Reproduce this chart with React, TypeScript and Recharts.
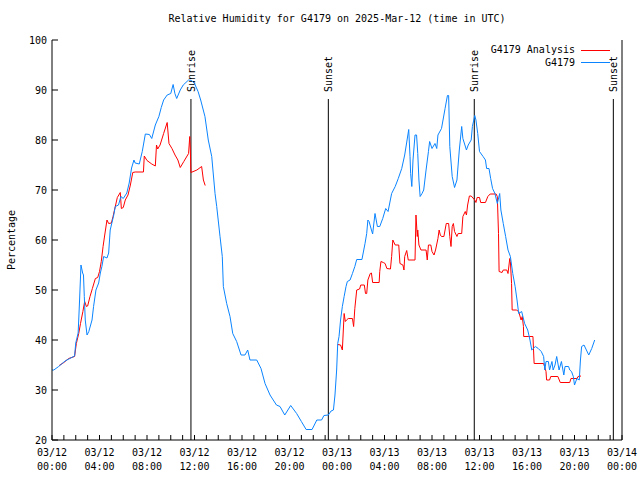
import { Legend, Line, LineChart, ReferenceLine, XAxis, YAxis } from "recharts";

const FONT = "'DejaVu Sans Mono', 'Liberation Mono', monospace";
const RED = "#ff0000";
const BLUE = "#0a84ff";

// hours since 03/12 00:00 UTC, relative humidity in %
const stationRh: [number, number][] = [
  [0, 34], [0.15, 34], [0.56, 34.7], [1.1, 35.8], [1.5, 36.3], [1.9, 36.8], [2.0, 39.4],
  [2.2, 41.4], [2.25, 44], [2.33, 48.4], [2.44, 55], [2.58, 53.4], [2.65, 53], [2.72, 48.7],
  [2.8, 44], [2.95, 41], [3.1, 41.7], [3.37, 44], [3.5, 46.7], [3.7, 50], [3.93, 51.4],
  [4.07, 53.4], [4.2, 54.7], [4.35, 56.7], [4.63, 56.4], [4.77, 57.4], [4.9, 62], [5.2, 65],
  [5.33, 66.7], [5.6, 67], [5.8, 68.7], [6.0, 68.3], [6.3, 69.4], [6.5, 71.4], [6.7, 74.4],
  [6.9, 76], [7.0, 75.4], [7.35, 75.2], [7.6, 77.7], [7.86, 81.2], [8.2, 81.1], [8.4, 80.3],
  [8.7, 83], [9.0, 84.7], [9.2, 86.5], [9.4, 88], [9.7, 89], [10.0, 89.3], [10.2, 91.1],
  [10.35, 89.3], [10.5, 88.3], [10.8, 90], [11.05, 91], [11.5, 92], [11.76, 91.9], [12.0, 91.3],
  [12.3, 89.7], [12.52, 88], [12.88, 84.7], [13.16, 80], [13.45, 76.7], [13.73, 69.3],
  [13.87, 66.7], [14.15, 60.7], [14.34, 56.7], [14.43, 50.7], [14.71, 47.3], [14.99, 44.7],
  [15.22, 41.3], [15.55, 39.7], [15.92, 37], [16.25, 37], [16.48, 38], [16.67, 36], [17.24, 36],
  [17.6, 34.3], [17.94, 31.3], [18.36, 29], [18.9, 27], [19.2, 26.7], [19.6, 25], [20.1, 26.9],
  [20.6, 25.3], [21.0, 23.7], [21.4, 22.1], [21.9, 22.1], [22.3, 24], [22.7, 24], [22.9, 24.9],
  [23.27, 25], [23.5, 25.8], [23.7, 26], [23.83, 29], [23.97, 34], [24.06, 39.3], [24.17, 40.7],
  [24.3, 44], [24.45, 46.7], [24.6, 48.7], [24.76, 50.7], [24.87, 51.7], [25.1, 52], [25.3, 53.3],
  [25.5, 54.7], [25.66, 56.1], [26.1, 56.1], [26.36, 59.3], [26.5, 61.3], [26.6, 64], [26.7, 63.7],
  [26.9, 62], [27.0, 61.2], [27.2, 65.3], [27.4, 62.7], [27.6, 62.7], [27.85, 64.3], [28.1, 66.3],
  [28.3, 65.7], [28.6, 69.3], [28.9, 70.7], [29.16, 72.3], [29.45, 74.3], [29.7, 77], [29.9, 80],
  [30.04, 82.1], [30.15, 76.7], [30.2, 73.3], [30.3, 70.7], [30.4, 76], [30.57, 81], [30.7, 81],
  [30.8, 77.3], [30.9, 72], [31.0, 68.7], [31.16, 69.3], [31.3, 70], [31.5, 74], [31.7, 77.7],
  [31.8, 79.7], [32.0, 78.3], [32.25, 79.3], [32.4, 78.3], [32.5, 81], [32.8, 82.3], [33.1, 86.3],
  [33.3, 88.9], [33.4, 88.9], [33.5, 78.7], [33.7, 72.7], [33.9, 70.5], [34.1, 72], [34.3, 78],
  [34.5, 82.7], [34.6, 80.3], [34.9, 78], [35.05, 79], [35.3, 80], [35.4, 82.7], [35.6, 84.9],
  [35.7, 84], [35.85, 81.3], [36.0, 77.7], [36.3, 76.7], [36.5, 76], [36.6, 74.3], [36.8, 74.3],
  [36.94, 72.3], [37.1, 70.3], [37.3, 69.3], [37.5, 67.3], [37.7, 69.3], [37.8, 66], [38.0, 63.3],
  [38.2, 60.7], [38.4, 58], [38.6, 56.7], [38.8, 53.3], [39.0, 50.7], [39.16, 48], [39.3, 45.3],
  [39.55, 45.7], [39.8, 43.3], [40.06, 42], [40.25, 40], [40.4, 38], [40.7, 38.7], [40.95, 38.3],
  [41.2, 37.7], [41.4, 36.7], [41.5, 34], [41.6, 35.7], [41.8, 35.7], [41.9, 34], [42.1, 35.7],
  [42.2, 34], [42.36, 35], [42.5, 36.7], [42.7, 34], [42.9, 35.7], [43.1, 33], [43.2, 34.7],
  [43.5, 34.7], [43.6, 34], [43.75, 33.7], [43.9, 32.7], [44.0, 31], [44.2, 32.3], [44.4, 32],
  [44.5, 36], [44.6, 38.7], [44.8, 39], [45.2, 37], [45.45, 38.3], [45.7, 40],
];

const analysisRh: [number, number | null][] = [
  [0.6, 34.9], [1.0, 35.5], [1.4, 36.3], [1.9, 36.7], [2.05, 39.3], [2.25, 41.3], [2.4, 43.3],
  [2.6, 45.7], [2.75, 47.7], [2.9, 46.7], [3.0, 46.8], [3.2, 48.7], [3.4, 50.3], [3.65, 52.3],
  [3.85, 52.5], [4.0, 53.7], [4.15, 55.7], [4.3, 58.7], [4.44, 61], [4.63, 64], [4.77, 63.3],
  [5.0, 63.4], [5.14, 64.7], [5.33, 66.7], [5.5, 68.5], [5.75, 69.5], [5.84, 66.3], [6.0, 66.5],
  [6.17, 68], [6.4, 69], [6.6, 71], [6.8, 73.5], [7.0, 73.6], [7.7, 73.6], [7.77, 76.8], [8.0, 75.9],
  [8.4, 75.2], [8.7, 74.8], [8.8, 79], [8.9, 78.2], [9.1, 79], [9.4, 81.3], [9.7, 83.5], [9.85, 79.3],
  [10.1, 78.3], [10.36, 77], [10.6, 76], [10.8, 74.5], [11.1, 75.7], [11.5, 77.3], [11.6, 80.7],
  [11.65, 78], [11.7, 73.5], [12.2, 74], [12.6, 74.7], [12.75, 72], [12.9, 70.9],
  [13, null],
  [24.06, 39.1], [24.3, 39], [24.45, 38], [24.6, 45.3], [24.7, 43.7], [24.8, 44], [24.95, 44.3],
  [25.3, 44.3], [25.4, 42.7], [25.5, 46.3], [25.66, 50], [25.9, 50.2], [26.0, 51], [26.3, 51],
  [26.4, 49.3], [26.5, 49.3], [26.6, 52], [26.8, 53.3], [26.9, 53.4], [27.0, 51.5], [27.55, 51.5],
  [27.6, 53.7], [27.7, 55.7], [27.9, 55.5], [28.05, 55.3], [28.2, 54.3], [28.5, 54.2], [28.6, 56.7],
  [28.7, 60], [28.9, 59], [29.2, 59], [29.3, 55.3], [29.55, 55], [29.64, 54], [29.7, 56.7],
  [29.87, 57.9], [30.0, 56], [30.57, 56], [30.65, 65], [30.76, 60.7], [30.8, 62], [30.9, 59],
  [31.07, 58], [31.5, 58], [31.6, 56], [31.7, 59], [31.9, 59], [32.0, 57.7], [32.17, 57], [32.3, 58],
  [32.5, 60.3], [32.6, 62], [32.7, 61], [32.8, 60.7], [33.0, 60.7], [33.2, 63.3], [33.4, 63.3],
  [33.5, 60.7], [33.6, 58.7], [33.7, 62.7], [33.8, 63.3], [33.9, 61.7], [34.1, 60.7], [34.2, 61.3],
  [34.5, 61.3], [34.6, 64.7], [34.8, 65.7], [34.9, 65], [35.0, 67], [35.15, 68.8], [35.3, 68.8],
  [35.6, 68], [35.7, 67.5], [35.8, 68.5], [36.0, 68.5], [36.1, 67.5], [36.5, 67.5], [36.7, 68.7],
  [36.9, 69.2], [37.4, 69.2], [37.5, 68.7], [37.6, 61.3], [37.65, 53.7], [37.9, 53.5], [38.0, 54],
  [38.3, 54], [38.4, 53.3], [38.55, 56.3], [38.6, 55.7], [38.7, 51.3], [38.75, 46], [39.1, 46],
  [39.3, 45.7], [39.5, 44], [39.6, 44.7], [39.7, 42.7], [39.72, 40.7], [40.1, 40.7], [40.5, 40.7],
  [40.6, 35.3], [41.4, 35.3], [41.6, 33.7], [41.65, 32], [41.9, 32], [42.0, 32.7], [42.6, 32.7],
  [42.8, 31.5], [43.6, 31.5], [43.7, 32.3], [44.2, 32.3], [44.3, 32.7], [44.55, 32.8],
];

const sunEvents = [
  { t: 11.7, label: "Sunrise" },
  { t: 23.27, label: "Sunset" },
  { t: 35.56, label: "Sunrise" },
  { t: 47.27, label: "Sunset" },
];

const hourTicks = [
  0, 1, 2, 3, 4, 5, 6, 7, 8, 9, 10, 11, 12, 13, 14, 15, 16, 17, 18, 19, 20, 21, 22, 23, 24,
  25, 26, 27, 28, 29, 30, 31, 32, 33, 34, 35, 36, 37, 38, 39, 40, 41, 42, 43, 44, 45, 46, 47, 48,
];
const labelledHours = [0, 4, 8, 12, 16, 20, 24, 28, 32, 36, 40, 44, 48];
const rhTicks = [20, 30, 40, 50, 60, 70, 80, 90, 100];
const legendOrder = ["G4179 Analysis", "G4179"];

const stationData = stationRh.map(([t, rh]) => ({ t, rh }));
const analysisData = analysisRh.map(([t, rh]) => ({ t, rh }));

const pad = (n: number) => String(n).padStart(2, "0");
const dateLabel = (h: number) => `03/${pad(12 + Math.floor(h / 24))}`;
const timeLabel = (h: number) => `${pad(h % 24)}:00`;

const textStyle = { fontFamily: FONT, fontSize: 10, fill: "#000" };

function BottomTick({ x, y, payload }: any) {
  const h = payload.value;
  const labelled = labelledHours.includes(h);
  return (
    <g>
      <line x1={x} x2={x} y1={y} y2={y - 5} stroke="#000" />
      {labelled && (
        <text x={x} y={y} textAnchor="middle" {...textStyle}>
          <tspan x={x} dy={16}>{dateLabel(h)}</tspan>
          <tspan x={x} dy={14}>{timeLabel(h)}</tspan>
        </text>
      )}
    </g>
  );
}

function TopTick({ x, y }: any) {
  return <line x1={x} x2={x} y1={y} y2={y + 5} stroke="#000" />;
}

function LeftTick({ x, y, payload }: any) {
  return (
    <g>
      <line x1={x} x2={x + 6} y1={y} y2={y} stroke="#000" />
      <text x={x - 5} y={y} dy={4} textAnchor="end" {...textStyle}>
        {payload.value}
      </text>
    </g>
  );
}

function RightTick({ x, y }: any) {
  return <line x1={x - 6} x2={x} y1={y} y2={y} stroke="#000" />;
}

function SunLabel({ viewBox, text }: any) {
  const x = viewBox.x + 4;
  const y = viewBox.y - 7;
  return (
    <text x={x} y={y} transform={`rotate(-90 ${x} ${y})`} textAnchor="start" {...textStyle}>
      {text}
    </text>
  );
}

function LegendBox({ payload }: any) {
  const items = [...(payload || [])].sort(
    (a: any, b: any) => legendOrder.indexOf(a.value) - legendOrder.indexOf(b.value),
  );
  return (
    <div style={{ fontFamily: FONT, fontSize: 10, lineHeight: "12.5px", color: "#000" }}>
      {items.map((item: any) => (
        <div key={item.value} style={{ display: "flex", alignItems: "center", justifyContent: "flex-end" }}>
          <span>{item.value}</span>
          <span
            style={{
              display: "inline-block",
              width: 29,
              marginLeft: 6,
              borderTop: `1px solid ${item.color}`,
            }}
          />
        </div>
      ))}
    </div>
  );
}

export default function App() {
  return (
    <div style={{ position: "relative", width: 640, height: 480, background: "#fff" }}>
      <style>{"body{margin:0}"}</style>
      <div
        style={{
          position: "absolute",
          top: 13,
          left: 52,
          width: 570,
          textAlign: "center",
          fontFamily: FONT,
          fontSize: 10,
          lineHeight: "12px",
        }}
      >
        Relative Humidity for G4179 on 2025-Mar-12 (time in UTC)
      </div>
      <div
        style={{
          position: "absolute",
          left: 11,
          top: 240,
          transform: "translate(-50%, -50%) rotate(-90deg)",
          fontFamily: FONT,
          fontSize: 10,
          whiteSpace: "nowrap",
        }}
      >
        Percentage
      </div>
      <LineChart width={640} height={480} margin={{ top: 40, right: 0, bottom: 0, left: 0 }}>
        <XAxis
          xAxisId="bottom"
          dataKey="t"
          type="number"
          domain={[0, 48]}
          ticks={hourTicks}
          interval={0}
          height={40}
          tickSize={0}
          tickMargin={0}
          tickLine={false}
          axisLine={{ stroke: "#000" }}
          tick={<BottomTick />}
        />
        <XAxis
          xAxisId="top"
          orientation="top"
          dataKey="t"
          type="number"
          domain={[0, 48]}
          ticks={hourTicks}
          interval={0}
          height={0}
          tickSize={0}
          tickMargin={0}
          tickLine={false}
          axisLine={{ stroke: "#000" }}
          tick={<TopTick />}
        />
        <YAxis
          yAxisId="left"
          type="number"
          domain={[20, 100]}
          ticks={rhTicks}
          interval={0}
          width={52}
          tickSize={0}
          tickMargin={0}
          tickLine={false}
          axisLine={{ stroke: "#000" }}
          tick={<LeftTick />}
        />
        <YAxis
          yAxisId="right"
          orientation="right"
          type="number"
          domain={[20, 100]}
          ticks={rhTicks}
          interval={0}
          width={18}
          tickSize={0}
          tickMargin={0}
          tickLine={false}
          axisLine={{ stroke: "#000" }}
          tick={<RightTick />}
        />
        {sunEvents.map((s, i) => (
          <ReferenceLine
            key={i}
            xAxisId="bottom"
            yAxisId="left"
            segment={[
              { x: s.t, y: 20 },
              { x: s.t, y: 88.2 },
            ]}
            stroke="#000"
            strokeWidth={1}
            label={<SunLabel text={s.label} />}
          />
        ))}
        <Line
          xAxisId="bottom"
          yAxisId="left"
          data={analysisData}
          dataKey="rh"
          name="G4179 Analysis"
          stroke={RED}
          strokeWidth={1}
          dot={false}
          type="linear"
          isAnimationActive={false}
        />
        <Line
          xAxisId="bottom"
          yAxisId="left"
          data={stationData}
          dataKey="rh"
          name="G4179"
          stroke={BLUE}
          strokeWidth={1}
          dot={false}
          type="linear"
          isAnimationActive={false}
        />
        <Legend
          layout="vertical"
          align="center"
          verticalAlign="middle"
          content={<LegendBox />}
          wrapperStyle={{ top: 44, right: 30, left: "auto", width: "auto" }}
        />
      </LineChart>
    </div>
  );
}
